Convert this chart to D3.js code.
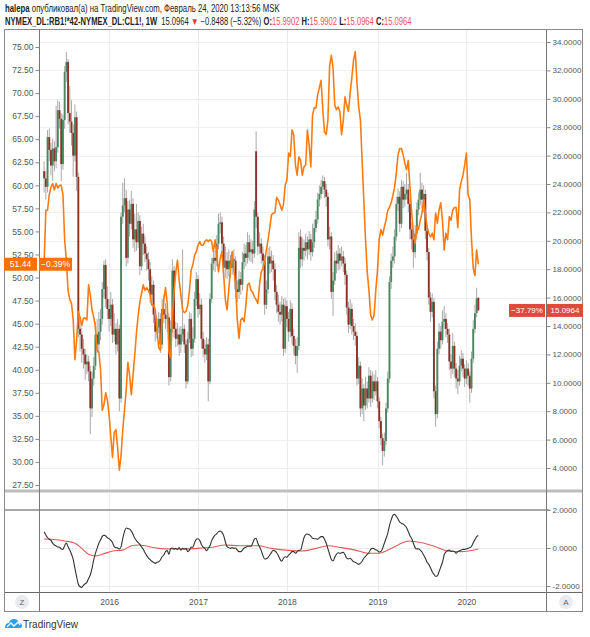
<!DOCTYPE html>
<html><head><meta charset="utf-8">
<script src="https://cdn.jsdelivr.net/npm/d3@7"></script>
<style>body{margin:0;background:#fff}svg{display:block}text{font-family:"Liberation Sans",Arial,sans-serif}</style>
</head><body><svg id="c" width="590" height="637"></svg>
<script>
// ---------------- DATA ----------------
const firstWeek = "2015-04-13"; // weekly bars (Mondays)
const opens = [24.9,24.4,23.8,27.3,26.4,25.3,26.5,25.6,26.6,29.2,
28.6,25.4,28.5,31.9,32.6,29.0,28.4,27.6,26.0,28.7,
24.5,13.8,13.4,12.4,12.0,11.3,11.5,10.8,8.2,10.3,
11.2,13.4,12.7,13.6,14.5,16.6,18.3,15.9,15.2,14.5,
15.5,13.4,13.8,12.7,13.8,8.9,21.7,22.5,23.0,18.8,
22.2,21.2,22.6,20.1,20.8,19.9,21.4,18.2,20.5,19.8,
19.1,18.7,18.0,16.2,16.9,14.8,13.6,13.9,14.5,12.7,
15.2,14.8,14.5,14.6,10.4,13.8,17.9,13.8,13.1,13.4,
12.7,13.4,13.8,12.7,10.1,13.1,14.5,12.4,13.1,15.9,
17.3,15.2,15.5,13.1,12.4,12.0,12.7,10.1,15.9,18.4,
18.8,18.6,19.8,21.2,21.3,19.8,18.1,18.6,18.0,18.6,
18.1,18.7,18.6,16.6,16.4,17.3,16.9,18.5,19.1,18.8,
19.9,19.2,19.4,19.1,26.3,21.7,19.6,19.8,19.1,18.6,
15.5,16.6,18.9,18.4,18.6,18.0,16.4,15.5,15.0,14.8,
15.5,12.4,15.4,14.5,13.6,15.2,13.3,12.6,11.9,12.6,
20.3,18.7,19.5,19.3,19.9,19.4,20.1,19.2,19.9,20.9,
21.5,22.9,23.3,23.8,24.2,23.6,23.1,20.1,20.3,16.4,
17.2,18.6,18.4,19.1,18.6,18.9,18.4,17.6,15.3,14.1,
15.2,14.0,13.6,13.3,10.3,11.2,8.2,9.6,8.4,9.6,
8.9,10.5,8.9,10.1,9.4,10.1,8.7,7.3,6.1,5.2,
5.9,8.2,10.3,17.1,18.6,18.9,20.3,22.6,23.1,21.2,
23.8,22.9,23.3,23.6,22.6,20.8,20.1,19.2,20.5,22.2,
22.9,23.6,22.9,23.3,20.7,19.2,16.0,15.0,15.7,9.4,
7.8,12.4,13.6,13.0,14.3,14.5,13.8,13.4,11.5,11.0,
12.6,11.0,10.3,10.1,11.2,11.7,11.0,10.3,11.0,10.5,
9.6,11.7,13.8,14.9,15.9902];
const highs = [25.6,24.9,27.8,27.9,26.9,27.2,27.0,29.5,29.9,29.8,
29.0,28.9,32.3,33.3,32.8,30.9,29.9,28.2,29.6,29.1,
24.8,14.6,13.9,13.1,12.4,12.0,11.9,11.2,10.8,11.8,
14.3,14.5,15.0,15.2,17.1,18.6,18.7,16.8,15.9,16.4,
15.9,14.9,14.2,14.5,14.1,22.0,24.1,24.4,23.6,22.8,
22.9,23.5,23.0,21.9,22.6,22.0,21.8,21.0,21.2,20.3,
19.6,19.2,18.5,17.5,17.2,15.1,14.6,15.0,14.9,15.9,
16.2,15.6,15.4,14.9,14.4,18.7,18.2,14.3,14.2,13.9,
14.0,19.4,14.1,13.0,13.6,15.0,14.9,13.9,16.4,17.8,
17.6,16.3,15.9,13.6,13.0,13.2,13.1,16.3,18.8,19.5,
19.3,20.4,21.9,22.0,21.7,20.3,19.6,19.2,19.4,19.0,
19.3,19.4,18.9,17.2,17.9,17.8,19.2,19.8,19.7,20.6,
20.4,20.1,20.0,22.8,27.7,22.0,20.6,20.2,19.6,19.0,
17.2,19.5,19.6,19.3,19.0,18.4,16.9,16.2,15.7,16.1,
15.9,16.0,15.8,15.0,15.8,15.6,13.8,13.1,13.2,20.6,
20.8,20.2,20.1,20.5,20.3,20.7,20.5,21.2,21.5,22.1,
23.4,23.9,24.3,24.6,24.5,24.0,23.4,21.0,20.6,17.8,
19.2,19.3,19.7,19.5,19.6,19.3,18.8,17.9,15.7,15.9,
15.6,14.5,14.2,13.6,11.8,11.5,10.3,9.9,10.4,10.1,
11.1,10.9,10.8,10.6,10.9,10.4,9.0,7.6,6.4,6.5,
8.6,10.8,17.5,19.1,19.6,20.8,23.1,23.7,23.5,24.3,
24.2,24.0,24.8,24.0,23.0,21.3,20.5,21.1,22.7,23.4,
24.8,24.1,23.9,23.6,21.1,19.5,16.4,16.3,16.0,9.8,
12.9,14.2,14.0,15.1,15.4,14.9,14.2,13.8,12.0,13.5,
12.9,11.4,10.9,11.9,12.3,12.1,11.3,11.6,11.4,10.8,
12.2,14.4,15.5,16.7,15.9902];
const lows = [23.4,22.9,23.4,25.6,24.6,24.2,24.9,25.1,26.2,27.9,
24.2,25.0,27.9,31.2,28.2,27.6,26.7,24.5,25.6,23.5,
13.2,12.2,11.4,11.0,10.2,10.6,10.1,6.4,7.6,9.8,
10.9,12.1,12.2,13.0,14.1,16.0,15.3,14.5,13.6,14.0,
12.8,12.9,12.0,12.2,8.0,8.6,21.2,22.0,18.2,18.4,
20.3,20.8,19.5,19.2,19.3,19.5,17.6,17.9,19.0,18.5,
17.9,17.2,15.6,15.8,14.2,12.9,13.1,13.5,12.1,12.4,
14.2,13.8,13.6,9.8,10.1,13.5,13.2,12.5,12.6,11.9,
12.1,12.9,12.1,9.6,9.9,12.8,11.8,11.9,12.8,15.4,
14.6,14.8,12.4,11.8,11.4,11.6,8.7,9.9,15.6,17.9,
17.8,18.2,19.4,20.5,19.1,17.5,17.4,17.3,17.5,17.4,
17.6,17.9,16.0,15.7,15.9,16.2,16.5,18.0,18.2,18.4,
18.6,18.5,18.4,18.8,20.9,19.0,19.1,18.4,17.9,14.8,
15.2,16.3,17.7,17.8,17.2,15.8,14.9,14.3,14.1,14.3,
11.9,12.1,13.9,12.9,13.2,12.7,12.0,11.3,10.7,12.3,
18.1,18.2,18.6,18.9,18.7,19.0,18.6,18.9,19.5,20.6,
21.2,22.4,23.0,23.3,23.0,22.4,19.6,19.4,15.9,14.7,
16.9,17.7,17.9,18.0,18.2,17.8,16.9,14.8,13.5,13.8,
13.4,13.0,12.6,9.8,9.9,7.6,7.8,7.3,8.1,8.2,
8.6,8.3,8.6,8.8,9.1,8.2,6.8,5.6,4.2,4.8,
5.6,7.9,10.0,16.6,18.1,18.4,20.0,22.1,20.6,20.9,
22.3,22.4,22.9,22.0,20.1,19.4,18.1,18.8,20.1,21.8,
22.5,22.3,22.0,20.1,18.6,15.5,14.3,14.6,8.9,6.9,
7.5,12.0,12.4,12.7,13.8,13.2,12.8,10.9,10.3,10.6,
10.4,9.6,9.2,9.8,10.8,10.4,9.7,9.9,9.8,8.6,
9.3,11.4,13.5,14.6,15.0964];
const closes = [24.4,23.8,27.3,26.4,25.3,26.5,25.6,26.6,29.2,28.6,
25.4,28.5,31.9,32.6,29.0,28.4,27.6,26.0,28.7,24.5,
13.8,13.4,12.4,12.0,11.3,11.5,10.8,8.2,10.3,11.2,
13.4,12.7,13.6,14.5,16.6,18.3,15.9,15.2,14.5,15.5,
13.4,13.8,12.7,13.8,8.9,21.7,22.5,23.0,18.8,22.2,
21.2,22.6,20.1,20.8,19.9,21.4,18.2,20.5,19.8,19.1,
18.7,18.0,16.2,16.9,14.8,13.6,13.9,14.5,12.7,15.2,
14.8,14.5,14.6,10.4,13.8,17.9,13.8,13.1,13.4,12.7,
13.4,13.8,12.7,10.1,13.1,14.5,12.4,13.1,15.9,17.3,
15.2,15.5,13.1,12.4,12.0,12.7,10.1,15.9,18.4,18.8,
18.6,19.8,21.2,21.3,19.8,18.1,18.6,18.0,18.6,18.1,
18.7,18.6,16.6,16.4,17.3,16.9,18.5,19.1,18.8,19.9,
19.2,19.4,19.1,22.2,21.7,19.6,19.8,19.1,18.6,15.5,
16.6,18.9,18.4,18.6,18.0,16.4,15.5,15.0,14.8,15.5,
12.4,15.4,14.5,13.6,15.2,13.3,12.6,11.9,12.6,19.5,
18.7,19.5,19.3,19.9,19.4,20.1,19.2,19.9,20.9,21.5,
22.9,23.3,23.8,24.2,23.6,23.1,20.1,20.3,16.4,17.2,
18.6,18.4,19.1,18.6,18.9,18.4,17.6,15.3,14.1,15.2,
14.0,13.6,13.3,10.3,11.2,8.2,9.6,8.4,9.6,8.9,
10.5,8.9,10.1,9.4,10.1,8.7,7.3,6.1,5.2,5.9,
8.2,10.3,17.1,18.6,18.9,20.3,22.6,23.1,21.2,23.8,
22.9,23.3,23.6,22.6,20.8,20.1,19.2,20.5,22.2,22.9,
23.6,22.9,23.3,20.7,19.2,16.0,15.0,15.7,9.4,7.8,
12.4,13.6,13.0,14.3,14.5,13.8,13.4,11.5,11.0,12.6,
11.0,10.3,10.1,11.2,11.7,11.0,10.3,11.0,10.5,9.6,
11.7,13.8,14.9,15.945,15.0964];
// orange comparison line (left scale)
const compareLine = [51.6,57.3,57.3,59.0,59.8,60.2,59.5,60.2,59.7,60.0,
60.0,59.0,54.1,51.9,48.6,47.6,47.2,45.4,41.1,43.2,
46.3,45.7,44.8,45.6,45.6,45.4,49.2,48.1,46.5,45.7,
44.6,42.1,41.9,40.0,35.6,36.2,37.5,36.7,35.1,32.7,
30.5,33.2,33.5,31.5,29.1,30.7,33.5,35.6,37.8,40.8,
39.4,37.3,39.4,41.6,44.0,45.9,47.3,48.3,49.2,48.6,
48.9,48.6,48.1,47.0,47.0,46.5,44.3,42.4,42.1,45.6,
47.6,48.9,47.2,41.9,41.3,45.6,48.4,50.6,51.9,49.7,
48.1,46.5,46.2,46.3,47.0,48.6,50.8,51.4,52.4,52.8,
53.5,53.9,53.5,53.5,53.9,54.1,53.9,54.1,53.9,52.8,
54.1,52.4,50.6,52.1,52.8,50.3,47.6,46.5,48.6,51.0,
52.8,50.8,49.2,45.4,43.4,45.4,45.6,45.2,47.0,49.2,
49.4,48.6,48.4,47.9,47.6,47.2,49.2,50.6,51.0,51.7,
53.0,54.1,55.4,56.8,57.0,57.0,58.7,58.4,57.9,57.3,
57.9,60.0,60.6,63.5,63.1,66.0,65.5,62.2,61.1,63.1,
62.7,61.1,62.0,62.2,66.0,64.4,62.0,67.6,68.4,68.4,
69.8,70.6,71.4,68.2,65.8,65.5,67.1,73.0,74.1,72.7,
68.7,68.2,68.5,68.0,65.5,67.1,69.6,68.7,68.0,70.0,
71.7,73.6,74.5,71.1,68.5,67.1,62.7,58.4,54.1,50.6,
48.6,45.9,45.4,45.9,48.6,50.8,54.1,55.2,54.6,55.5,
56.2,57.3,57.6,58.1,58.9,59.8,61.3,63.3,64.0,64.0,
63.3,62.4,61.7,62.7,59.8,57.0,54.8,53.7,55.5,55.2,
56.2,57.0,58.4,57.0,55.5,54.8,54.4,54.8,54.1,57.0,
55.9,57.3,58.1,56.2,53.0,54.8,54.1,56.6,56.2,57.3,
57.6,57.6,55.4,59.5,60.4,61.1,62.2,63.5,59.0,58.4,
54.1,51.0,50.2,53.0,51.44];
// oscillator (lower pane)
const oscFast = [0.86,0.68,0.54,0.47,0.40,0.25,0.16,0.11,0.05,0.04,
-0.05,-0.07,0.12,0.26,0.07,-0.11,-0.33,-0.60,-1.07,-1.51,
-1.91,-2.04,-2.07,-1.96,-1.88,-1.81,-1.60,-1.42,-1.07,-0.63,
-0.28,-0.02,0.25,0.42,0.61,0.68,0.63,0.54,0.49,0.40,
0.28,0.07,0.02,0.00,-0.05,0.07,0.51,0.86,1.05,1.02,
1.00,0.89,0.72,0.51,0.39,0.28,0.19,0.05,-0.07,-0.25,
-0.40,-0.53,-0.61,-0.70,-0.75,-0.81,-0.75,-0.72,-0.63,-0.46,
-0.37,-0.19,-0.14,-0.33,-0.02,0.00,-0.05,-0.02,-0.07,0.02,
-0.11,-0.02,-0.05,-0.02,-0.19,-0.11,0.05,0.04,0.28,0.46,
0.49,0.40,0.19,0.05,-0.02,-0.14,-0.02,0.12,0.39,0.56,
0.68,0.75,0.86,0.89,0.82,0.65,0.33,0.07,0.02,-0.02,
0.02,-0.02,0.00,-0.11,-0.19,-0.19,-0.11,0.00,0.04,0.09,
0.09,0.09,0.25,0.47,0.51,0.25,0.07,-0.14,-0.40,-0.58,
-0.56,-0.49,-0.37,-0.23,-0.12,-0.16,-0.25,-0.40,-0.60,-0.70,
-0.54,-0.46,-0.49,-0.37,-0.30,-0.19,-0.19,-0.28,-0.19,-0.12,
-0.12,0.19,0.54,0.70,0.74,0.70,0.63,0.51,0.49,0.49,
0.46,0.53,0.60,0.60,0.46,0.25,-0.05,-0.33,-0.60,-0.68,
-0.49,-0.33,-0.25,-0.28,-0.25,-0.23,-0.35,-0.53,-0.58,-0.54,
-0.63,-0.72,-0.75,-0.81,-0.86,-0.81,-0.70,-0.54,-0.44,-0.33,
-0.25,-0.07,-0.02,-0.04,-0.09,-0.14,-0.21,-0.19,-0.02,0.25,
0.51,0.77,1.18,1.47,1.72,1.77,1.67,1.53,1.37,1.30,
1.26,1.18,1.07,0.86,0.65,0.49,0.25,0.02,-0.05,-0.04,
-0.11,-0.21,-0.37,-0.54,-0.75,-0.86,-1.04,-1.25,-1.39,-1.49,
-1.47,-1.25,-1.00,-0.75,-0.37,-0.21,-0.14,-0.11,-0.18,-0.16,
-0.19,-0.28,-0.19,-0.14,-0.11,-0.07,-0.07,-0.05,-0.02,0.02,
0.09,0.28,0.44,0.60,0.65];
const oscSlowWeek = [0,12,18,22,26,30,34,40,46,51,55,59,63,67,75,81,90,98,106,114,125,133,141,145,151,159,166,174,182,190,196,201,207,213,221,229,236,244,254];
const oscSlowVal = [0.47,0.37,0.25,-0.02,-0.33,-0.42,-0.33,-0.16,-0.11,0.12,0.16,0.12,0.04,-0.02,-0.05,-0.05,-0.02,0.04,0.16,0.12,0.12,-0.02,-0.11,-0.14,-0.16,-0.02,0.12,0.02,-0.11,-0.28,-0.28,-0.11,0.16,0.37,0.28,0.07,-0.16,-0.19,-0.05];
// axes
const leftTicks = [75,72.5,70,67.5,65,62.5,60,57.5,55,52.5,50,47.5,45,42.5,40,37.5,35,32.5,30,27.5];
const rightTicks = [34,32,30,28,26,24,22,20,18,16,14,12,10,8,6,4];
const oscTicks = [2,0,-2];
const yearTickDates = ["2016-01-04","2017-01-02","2018-01-01","2019-01-07","2020-01-06"];
const yearTickLabels = ["2016","2017","2018","2019","2020"];

// ---------------- DRAW ----------------
const svg = d3.select("#c");
const parse = d3.timeParse("%Y-%m-%d");
const t0 = parse(firstWeek);
const dates = closes.map((_, i) => d3.timeDay.offset(t0, 7 * i));

const PL = 39.5, PR = 546.5, PT = 30, PB = 490, OT = 493, OB = 592;
const x = d3.scaleTime().domain([parse("2015-03-25"), parse("2020-11-29")]).range([PL, PR]);
const yR = d3.scaleLinear().domain([4, 34]).range([468, 42]);
const yL = d3.scaleLinear().domain([27.5, 75]).range([485, 47]);
const yO = d3.scaleLinear().domain([-2, 2]).range([586, 510]);

const defs = svg.append("defs");
defs.append("clipPath").attr("id", "cm").append("rect").attr("x", PL).attr("y", PT).attr("width", PR - PL).attr("height", PB - PT);
defs.append("clipPath").attr("id", "co").append("rect").attr("x", PL).attr("y", OT).attr("width", PR - PL).attr("height", OB - OT);

svg.append("rect").attr("width", 590).attr("height", 637).attr("fill", "#fff");

// grid
const grid = svg.append("g");
grid.selectAll(".hg").data(rightTicks).join("line")
  .attr("x1", PL).attr("x2", PR).attr("y1", d => Math.round(yR(d)) + 0.5).attr("y2", d => Math.round(yR(d)) + 0.5)
  .attr("stroke", "#efefef");
yearTickDates.forEach(s => {
  const xx = Math.round(x(parse(s))) + 0.5;
  grid.append("line").attr("x1", xx).attr("x2", xx).attr("y1", PT).attr("y2", PB).attr("stroke", "#ececec");
  grid.append("line").attr("x1", xx).attr("x2", xx).attr("y1", OT).attr("y2", OB).attr("stroke", "#ececec");
});
[0, -2].forEach(v => grid.append("line").attr("x1", PL).attr("x2", PR)
  .attr("y1", Math.round(yO(v)) + 0.5).attr("y2", Math.round(yO(v)) + 0.5).attr("stroke", "#ececec"));

// candles
const cg = svg.append("g").attr("clip-path", "url(#cm)");
const idx = d3.range(closes.length);
cg.selectAll(".w").data(idx).join("line")
  .attr("x1", i => x(dates[i])).attr("x2", i => x(dates[i]))
  .attr("y1", i => yR(highs[i])).attr("y2", i => yR(lows[i]))
  .attr("stroke", "#a9a9a9").attr("stroke-width", 1);
cg.selectAll(".b").data(idx).join("rect")
  .attr("x", i => x(dates[i]) - 0.95).attr("width", 1.9)
  .attr("y", i => yR(Math.max(opens[i], closes[i])))
  .attr("height", i => Math.max(1, Math.abs(yR(opens[i]) - yR(closes[i]))))
  .attr("fill", i => closes[i] >= opens[i] ? "#4a8660" : "#8e3127");

// orange line
cg.append("path").datum(idx)
  .attr("d", d3.line().x(i => x(dates[i])).y(i => yL(compareLine[i])))
  .attr("fill", "none").attr("stroke", "#ff7b0f").attr("stroke-width", 1.6).attr("stroke-linejoin", "round");

// oscillator
const og = svg.append("g").attr("clip-path", "url(#co)");
og.append("path").datum(oscSlowWeek.map((w, k) => [w, oscSlowVal[k]]))
  .attr("d", d3.line().x(d => x(dates[d[0]])).y(d => yO(d[1])).curve(d3.curveMonotoneX))
  .attr("fill", "none").attr("stroke", "#e05a5a").attr("stroke-width", 1.1);
og.append("path").datum(idx)
  .attr("d", d3.line().x(i => x(dates[i])).y(i => yO(oscFast[i])).curve(d3.curveMonotoneX))
  .attr("fill", "none").attr("stroke", "#333").attr("stroke-width", 1.1);

// separators & frame
svg.append("line").attr("x1", 4).attr("x2", 583).attr("y1", 491).attr("y2", 491).attr("stroke", "#bdbdbd").attr("stroke-width", 3);
svg.append("line").attr("x1", 4).attr("x2", PR + 3).attr("y1", yO(2)).attr("y2", yO(2)).attr("stroke", "#a8a8a8").attr("stroke-width", 2);
svg.append("line").attr("x1", 4).attr("x2", 583).attr("y1", OB + 0.5).attr("y2", OB + 0.5).attr("stroke", "#666");
svg.append("line").attr("x1", PL).attr("x2", PL).attr("y1", 29).attr("y2", 612).attr("stroke", "#777");
svg.append("line").attr("x1", PR).attr("x2", PR).attr("y1", 29).attr("y2", 612).attr("stroke", "#777");
svg.append("rect").attr("x", 4.5).attr("y", 29.5).attr("width", 578).attr("height", 582).attr("fill", "none").attr("stroke", "#8a8a8a");

// axes
const axStyle = g => { g.select(".domain").remove(); g.selectAll("text").attr("fill", "#555").style("font-family", '"Liberation Sans",Arial,sans-serif'); g.selectAll(".tick line").attr("stroke", "#888"); };
svg.append("g").attr("transform", `translate(${PL},0)`)
  .call(d3.axisLeft(yL).tickValues(leftTicks).tickFormat(d3.format(".2f")).tickSize(4).tickPadding(2))
  .call(axStyle).selectAll("text").attr("font-size", 8.5);
svg.append("g").attr("transform", `translate(${PR},0)`)
  .call(d3.axisRight(yR).tickValues(rightTicks).tickFormat(d3.format(".4f")).tickSize(4).tickPadding(2))
  .call(axStyle).selectAll("text").attr("font-size", 8);
svg.append("g").attr("transform", `translate(${PR},0)`)
  .call(d3.axisRight(yO).tickValues(oscTicks).tickFormat(d => d3.format(".4f")(d).replace("\u2212", "-")).tickSize(4).tickPadding(2))
  .call(axStyle).selectAll("text").attr("font-size", 8);
svg.append("g").attr("transform", `translate(0,${OB})`)
  .call(d3.axisBottom(x).tickValues(yearTickDates.map(parse)).tickFormat((d, k) => yearTickLabels[k]).tickSize(0).tickPadding(7))
  .call(axStyle).selectAll("text").attr("font-size", 8.5);

// value labels
const lastI = closes.length - 1;
const yo = yL(compareLine[lastI]);
svg.append("rect").attr("x", 4).attr("y", yo - 6.5).attr("width", 33).attr("height", 13).attr("fill", "#ff7000");
svg.append("rect").attr("x", 39).attr("y", yo - 6.5).attr("width", 33).attr("height", 13).attr("fill", "#ff7000");
svg.append("text").attr("x", 20.5).attr("y", yo + 3).attr("text-anchor", "middle").attr("font-size", 8.5).attr("fill", "#fff").text(d3.format(".2f")(compareLine[lastI]));
svg.append("text").attr("x", 55.5).attr("y", yo + 3).attr("text-anchor", "middle").attr("font-size", 8.5).attr("fill", "#fff").text("\u22120.39%");
const yc = yR(closes[lastI]);
svg.append("rect").attr("x", 509).attr("y", yc - 6.5).attr("width", 36).attr("height", 13).attr("fill", "#e04a3b");
svg.append("rect").attr("x", 547).attr("y", yc - 6.5).attr("width", 36).attr("height", 13).attr("fill", "#e04a3b");
svg.append("text").attr("x", 527).attr("y", yc + 3).attr("text-anchor", "middle").attr("font-size", 8).attr("fill", "#fff").text("\u221237.79%");
svg.append("text").attr("x", 565).attr("y", yc + 3).attr("text-anchor", "middle").attr("font-size", 8).attr("fill", "#fff").text(d3.format(".4f")(closes[lastI]));

// header
function fitText(g, w) {
  const len = g.node().getComputedTextLength();
  return len;
}
const h1g = svg.append("g");
const h1 = h1g.append("text").attr("x", 0).attr("y", 12).attr("font-size", 10).attr("fill", "#222");
h1.append("tspan").attr("font-weight", "bold").text("halepa");
h1.append("tspan").text(" опубликовал(а) на TradingView.com, Февраль 24, 2020 13:13:56 MSK");
const l1 = h1.node().getComputedTextLength();
h1g.attr("transform", `translate(5,0) scale(${275 / l1},1)`);

const h2g = svg.append("g");
const h2 = h2g.append("text").attr("x", 0).attr("y", 25).attr("font-size", 10).attr("fill", "#222");
h2.append("tspan").attr("font-weight", "bold").text("NYMEX_DL:RB1!*42-NYMEX_DL:CL1!, 1W");
h2.append("tspan").text("\u00a0 15.0964 ");
h2.append("tspan").attr("fill", "#e53935").text("\u25BC");
h2.append("tspan").text(" \u22120.8488 (\u22125.32%) ");
[["O:", "15.9902"], ["H:", "15.9902"], ["L:", "15.0964"], ["C:", "15.0964"]].forEach(([k, v], j) => {
  h2.append("tspan").attr("font-weight", "bold").text(k);
  h2.append("tspan").attr("fill", "#ef5350").text(v + (j < 3 ? " " : ""));
});
const l2 = h2.node().getComputedTextLength();
h2g.attr("transform", `translate(5,0) scale(${407 / l2},1)`);

// Z / A buttons
[[22, "Z"], [566, "A"]].forEach(([cx, t]) => {
  svg.append("circle").attr("cx", cx).attr("cy", 602).attr("r", 7).attr("fill", "#e9ebef");
  svg.append("text").attr("x", cx).attr("y", 605).attr("text-anchor", "middle").attr("font-size", 8).attr("fill", "#666").text(t);
});

// TradingView logo
const lg = svg.append("g").attr("transform", "translate(5,618)");
lg.append("path").attr("d", "M0,10 Q0,5 4,5 Q5,1 9,1 Q13,1 14,5 Q17,5 17,8 Q17,10 15,10 Z").attr("fill", "#2a9df4");
lg.append("path").attr("d", "M2,9 L6,5 L9,8 L13,4 L15,7").attr("fill", "none").attr("stroke", "#fff").attr("stroke-width", 1.3);
svg.append("text").attr("x", 23).attr("y", 628).attr("font-size", 10).attr("fill", "#333").text("TradingView");
</script>
</body></html>
